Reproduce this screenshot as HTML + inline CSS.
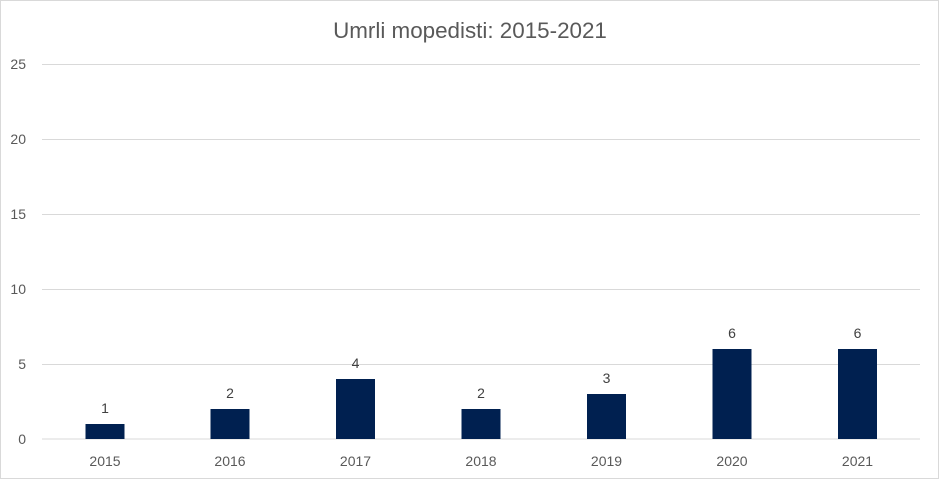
<!DOCTYPE html>
<html><head><meta charset="utf-8"><style>body{margin:0;background:#fff}</style></head><body>
<svg width="940" height="480" xmlns="http://www.w3.org/2000/svg" font-family="Liberation Sans, sans-serif">
<rect x="0.5" y="0.5" width="938" height="478" fill="#fff" stroke="#d9d9d9"/>
<text x="470" y="38" text-anchor="middle" font-size="22.4" fill="#595959">Umrli mopedisti: 2015-2021</text>
<g stroke="#d9d9d9" stroke-width="1">
<line x1="42" x2="920" y1="64.5" y2="64.5"/><line x1="42" x2="920" y1="139.5" y2="139.5"/>
<line x1="42" x2="920" y1="214.5" y2="214.5"/><line x1="42" x2="920" y1="289.5" y2="289.5"/>
<line x1="42" x2="920" y1="364.5" y2="364.5"/><line x1="42" x2="920" y1="439" y2="439"/>
</g>
<g font-size="14" fill="#595959" text-anchor="end">
<text x="26" y="69">25</text><text x="26" y="144">20</text><text x="26" y="219">15</text>
<text x="26" y="294">10</text><text x="26" y="369">5</text><text x="26" y="444">0</text>
</g>
<g fill="#002050">
<rect x="85.5" y="424" width="39" height="15"/>
<rect x="210.5" y="409" width="39" height="30"/>
<rect x="336" y="379" width="39" height="60"/>
<rect x="461.5" y="409" width="39" height="30"/>
<rect x="587" y="394" width="39" height="45"/>
<rect x="712.5" y="349" width="39" height="90"/>
<rect x="838" y="349" width="39" height="90"/>
</g>
<g font-size="14" fill="#404040" text-anchor="middle">
<text x="105" y="413">1</text><text x="230" y="398">2</text><text x="355.5" y="368">4</text>
<text x="481" y="398">2</text><text x="606.5" y="383">3</text><text x="732" y="338">6</text><text x="857.5" y="338">6</text>
</g>
<g font-size="14" fill="#595959" text-anchor="middle">
<text x="105" y="466">2015</text><text x="230" y="466">2016</text><text x="355.5" y="466">2017</text>
<text x="481" y="466">2018</text><text x="606.5" y="466">2019</text><text x="732" y="466">2020</text><text x="857.5" y="466">2021</text>
</g>
</svg>
</body></html>
